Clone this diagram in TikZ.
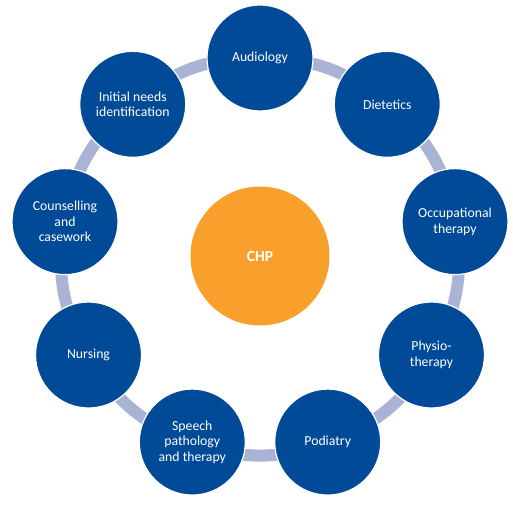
\documentclass[tikz,border=0pt]{standalone}
\usepackage{fontspec}
\setmainfont{Carlito}
\usetikzlibrary{backgrounds}
\definecolor{ringblue}{RGB}{0,74,152}
\definecolor{chporange}{RGB}{249,160,44}
\definecolor{barcol}{RGB}{169,179,211}
\tikzset{
  outer/.style={circle, fill=ringblue, draw=white, line width=1.2bp, minimum size=106bp, inner sep=0pt,
    text=white, align=center, font=\fontsize{13.8}{15.5}\selectfont},
  hub/.style={circle, fill=chporange, minimum size=139bp, inner sep=0pt,
    text=white, font=\fontsize{15.5}{17}\selectfont\bfseries},
  bar/.style={barcol, line width=12bp, line cap=butt}
}
\begin{document}
\begin{tikzpicture}[x=1bp,y=-1bp]
\useasboundingbox (0,0) rectangle (513,508);
\def\cx{260}\def\cy{256}\def\R{198}
\node[hub] (chp) at (\cx,\cy) {CHP};
\node[outer] (n1) at ({\cx+\R*cos(90)},{\cy-\R*sin(90)}) {Audiology};
\node[outer] (n2) at ({\cx+\R*cos(50)},{\cy-\R*sin(50)}) {Dietetics};
\node[outer] (n3) at ({\cx+\R*cos(10)},{\cy-\R*sin(10)}) {Occupational\\therapy};
\node[outer] (n4) at ({\cx+\R*cos(-30)},{\cy-\R*sin(-30)}) {Physio-\\therapy};
\node[outer] (n5) at ({\cx+\R*cos(-70)},{\cy-\R*sin(-70)}) {Podiatry};
\node[outer] (n6) at ({\cx+\R*cos(-110)},{\cy-\R*sin(-110)}) {Speech\\pathology\\and therapy};
\node[outer] (n7) at ({\cx+\R*cos(-150)},{\cy-\R*sin(-150)}) {Nursing};
\node[outer] (n8) at ({\cx+\R*cos(170)},{\cy-\R*sin(170)}) {Counselling\\and\\casework};
\node[outer] (n9) at ({\cx+\R*cos(130)},{\cy-\R*sin(130)}) {Initial needs\\identification};
\begin{scope}[on background layer]
\foreach \a/\b in {n1/n2,n2/n3,n3/n4,n4/n5,n5/n6,n6/n7,n7/n8,n8/n9,n9/n1}
  \draw[bar] (\a.center) to[bend left=20] (\b.center);
\end{scope}
\end{tikzpicture}
\end{document}
